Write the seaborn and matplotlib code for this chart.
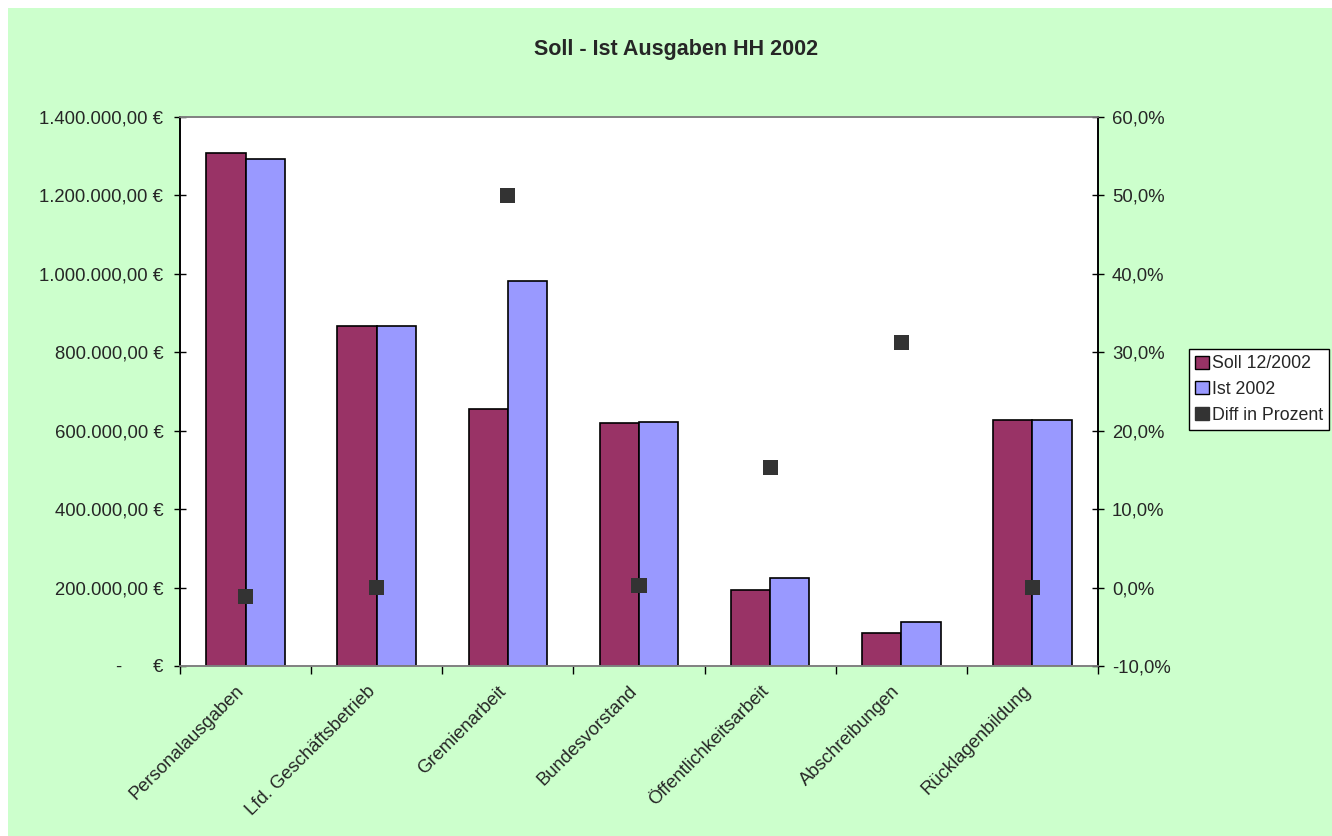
import numpy as np
import pandas as pd
import matplotlib
matplotlib.use("Agg")
import matplotlib.pyplot as plt
import matplotlib.transforms as mtransforms
from matplotlib.patches import Patch, Rectangle
from matplotlib.ticker import FuncFormatter, MultipleLocator, FixedLocator
import seaborn as sns

# Data
categories = ["Personalausgaben", "Lfd. Geschäftsbetrieb", "Gremienarbeit", "Bundesvorstand",
              "Öffentlichkeitsarbeit", "Abschreibungen", "Rücklagenbildung"]
soll = [1307000, 867000, 655000, 619000, 194000, 84000, 628000]
ist = [1293000, 867000, 982000, 621000, 224000, 112000, 628000]
diff_pct = [-1.1, 0.0, 50.0, 0.3, 15.3, 31.2, 0.0]
series = ["Soll 12/2002", "Ist 2002"]
diff_label = "Diff in Prozent"

sns.set_style("white")
plt.rcParams["font.family"] = ["Liberation Sans", "DejaVu Sans"]

df = pd.DataFrame({
    "Kategorie": categories * 2,
    "Serie": [series[0]] * len(categories) + [series[1]] * len(categories),
    "Betrag": soll + ist,
})

green = "#CCFFCC"
colors = {series[0]: "#993366", series[1]: "#9999FF"}

fig = plt.figure(figsize=(13.32, 8.36), dpi=100, facecolor="white")
fig.patches.append(Rectangle((8 / 1332, 0), 1, 1 - 8 / 836, transform=fig.transFigure,
                             facecolor=green, edgecolor="none", zorder=-10))

ax = fig.add_axes([180 / 1332, 1 - 666 / 836, 918 / 1332, 549 / 836])
ax.set_facecolor("white")
sns.barplot(data=df, x="Kategorie", y="Betrag", hue="Serie", hue_order=series,
            palette=colors, width=0.6, edgecolor="black", linewidth=1.2,
            legend=False, ax=ax, saturation=1)
ax.set_xlim(-0.5, len(categories) - 0.5)
ax.set_ylim(0, 1400000)
ax.yaxis.set_major_locator(MultipleLocator(200000))


def euro(v, pos):
    if abs(v) < 1:
        return "-      €"
    s = f"{v:,.2f}".replace(",", "X").replace(".", ",").replace("X", ".")
    return s + " €"


ax.yaxis.set_major_formatter(FuncFormatter(euro))
ax.tick_params(axis="y", direction="inout", length=8, width=1, color="black",
               labelsize=13.3, pad=8, left=True)
ax.set_xlabel("")
ax.set_ylabel("")
ax.set_xticks(range(len(categories)))
ax.set_xticklabels(categories, rotation=45, ha="right", rotation_mode="anchor", fontsize=13.3)
ax.tick_params(axis="x", which="major", length=0, pad=12)
shift = mtransforms.ScaledTranslation(-10 / 100, 0, fig.dpi_scale_trans)
for lbl in ax.get_xticklabels():
    lbl.set_transform(lbl.get_transform() + shift)
ax.xaxis.set_minor_locator(FixedLocator(np.arange(-0.5, len(categories), 1.0)))
ax.tick_params(axis="x", which="minor", direction="out", length=6, width=1, color="black", bottom=True)

ax2 = ax.twinx()
sns.scatterplot(x=np.arange(len(categories)), y=diff_pct, marker="s", s=120,
                color="#333333", edgecolor="none", ax=ax2, zorder=5)
ax2.set_ylim(-10, 60)
ax2.yaxis.set_major_locator(MultipleLocator(10))
ax2.yaxis.set_major_formatter(FuncFormatter(lambda v, p: f"{v:.1f}%".replace(".", ",")))
ax2.tick_params(axis="y", direction="inout", length=8, width=1, color="black",
                labelsize=13.3, pad=6, right=True)
ax2.set_xlim(-0.5, len(categories) - 0.5)

for a in (ax, ax2):
    a.spines["left"].set_color("black")
    a.spines["right"].set_color("black")
    a.spines["top"].set_color("#808080")
    a.spines["bottom"].set_color("#808080")
    for sp in a.spines.values():
        sp.set_linewidth(1.2)
        sp.set_visible(True)

fig.text(676 / 1332, 1 - 50 / 836, "Soll - Ist Ausgaben HH 2002", ha="center", va="center",
         fontsize=15.5, fontweight="bold")

handles = [
    Patch(facecolor=colors[series[0]], edgecolor="black", label=series[0]),
    Patch(facecolor=colors[series[1]], edgecolor="black", label=series[1]),
    Patch(facecolor="#333333", edgecolor="#333333", label=diff_label),
]
leg = fig.legend(handles=handles, loc="upper left", bbox_to_anchor=(1189 / 1332, 1 - 349 / 836),
                 fontsize=12.8, frameon=True, fancybox=False, edgecolor="black", framealpha=1,
                 borderpad=0.35, labelspacing=0.5, handletextpad=0.2,
                 handlelength=0.75, handleheight=0.75, borderaxespad=0)
leg.get_frame().set_linewidth(1.0)
leg.get_frame().set_facecolor("white")

fig.savefig("out.png", dpi=100, facecolor=fig.get_facecolor())
